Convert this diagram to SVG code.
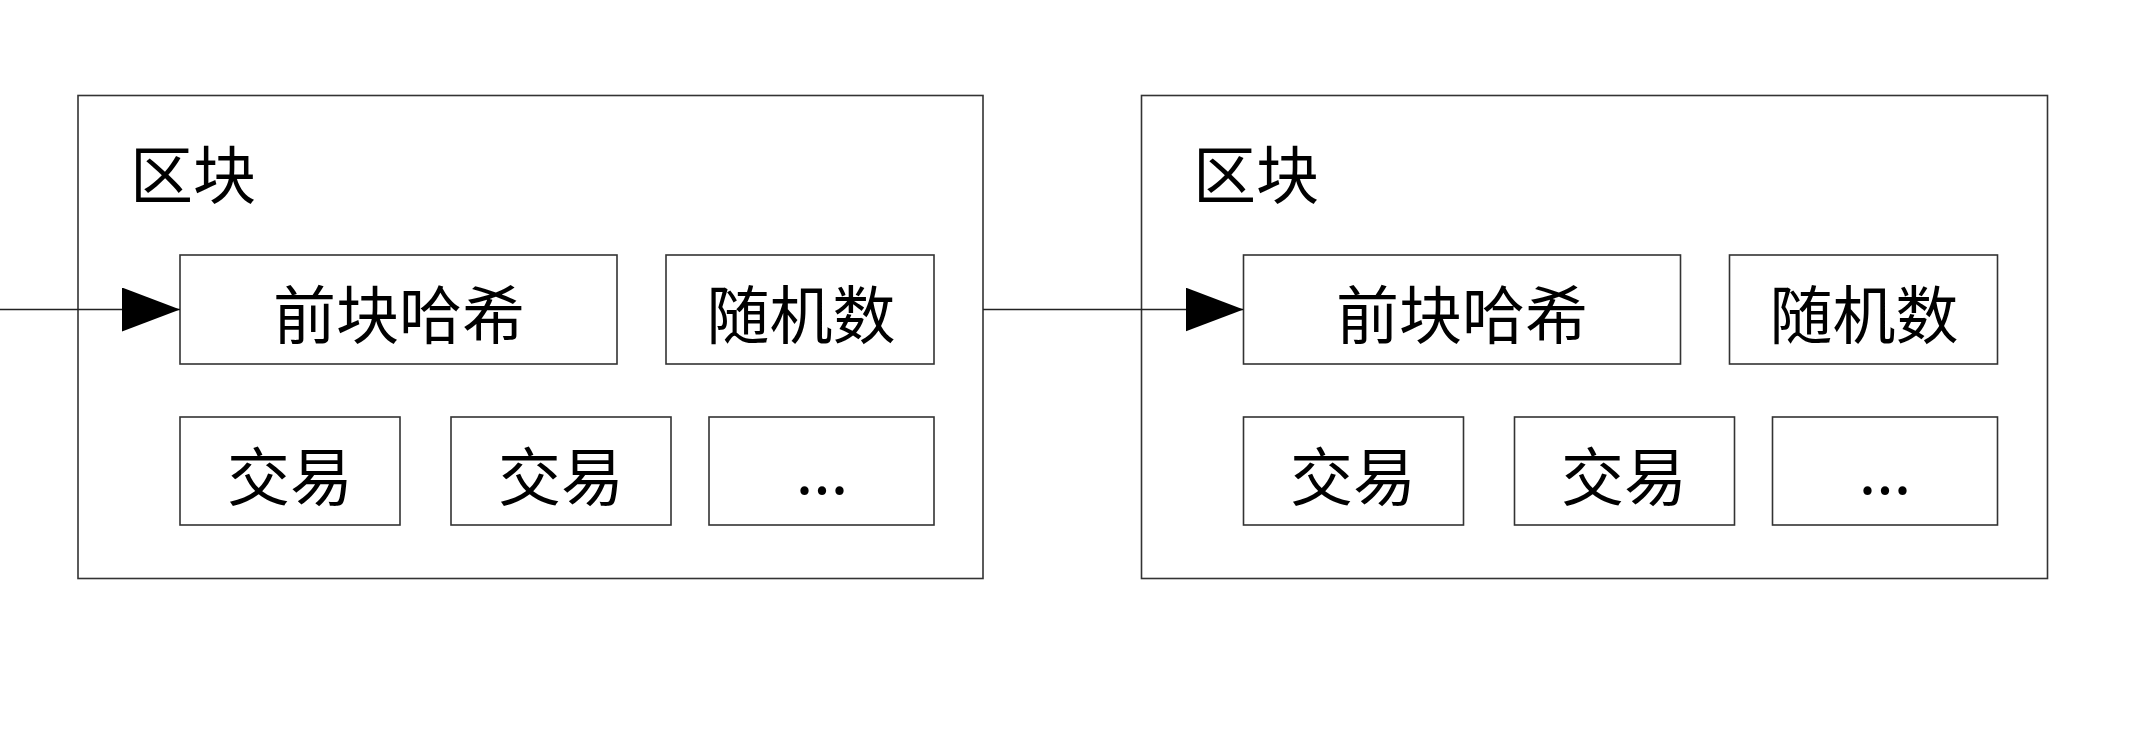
<svg xmlns="http://www.w3.org/2000/svg" width="2135" height="737" viewBox="0 0 2135 737">
<style>
.outer{fill:#fff;stroke:#333;stroke-width:1.6}
.inner{fill:#fff;stroke:#333;stroke-width:1.6}
.t{font-family:"Noto Sans CJK SC","Noto Sans",sans-serif;font-size:63px;font-weight:400;fill:#000;text-anchor:middle}
.title{font-family:"Noto Sans CJK SC","Noto Sans",sans-serif;font-size:63px;font-weight:400;fill:#000}
.edge{stroke:#222;stroke-width:1.6;fill:none}
</style>
<defs>
<marker id="arr" markerUnits="userSpaceOnUse" markerWidth="60" markerHeight="46" refX="58" refY="22" orient="auto">
<path d="M0,0 L58,22 L0,44 Z" fill="#000"/>
</marker>
</defs>
<rect width="2135" height="737" fill="#fff"/>
<g id="block1">
<rect class="outer" x="78" y="95.5" width="905" height="483"/>
<text class="title" x="130" y="198">区块</text>
<g id="b1-prevhash"><rect class="inner" x="180" y="255" width="437" height="109"/><text class="t" x="399" y="338">前块哈希</text></g>
<g id="b1-nonce"><rect class="inner" x="666" y="255" width="268" height="109"/><text class="t" x="801" y="338">随机数</text></g>
<g id="b1-tx1"><rect class="inner" x="180" y="417" width="220" height="108"/><text class="t" x="290" y="500">交易</text></g>
<g id="b1-tx2"><rect class="inner" x="451" y="417" width="220" height="108"/><text class="t" x="561" y="500">交易</text></g>
<g id="b1-more"><rect class="inner" x="709" y="417" width="225" height="108"/><text class="t" x="822" y="494">...</text></g>
</g>
<g id="block2">
<rect class="outer" x="1141.5" y="95.5" width="906" height="483"/>
<text class="title" x="1193" y="198">区块</text>
<g id="b2-prevhash"><rect class="inner" x="1243.5" y="255" width="437" height="109"/><text class="t" x="1462" y="338">前块哈希</text></g>
<g id="b2-nonce"><rect class="inner" x="1729.5" y="255" width="268" height="109"/><text class="t" x="1864" y="338">随机数</text></g>
<g id="b2-tx1"><rect class="inner" x="1243.5" y="417" width="220" height="108"/><text class="t" x="1353" y="500">交易</text></g>
<g id="b2-tx2"><rect class="inner" x="1514.5" y="417" width="220" height="108"/><text class="t" x="1624" y="500">交易</text></g>
<g id="b2-more"><rect class="inner" x="1772.5" y="417" width="225" height="108"/><text class="t" x="1885" y="494">...</text></g>
</g>
<g id="connectors">
<line class="edge" x1="0" y1="309.5" x2="180" y2="309.5" marker-end="url(#arr)"/>
<line class="edge" x1="983" y1="309.5" x2="1243.5" y2="309.5" marker-end="url(#arr)"/>
</g>
</svg>
